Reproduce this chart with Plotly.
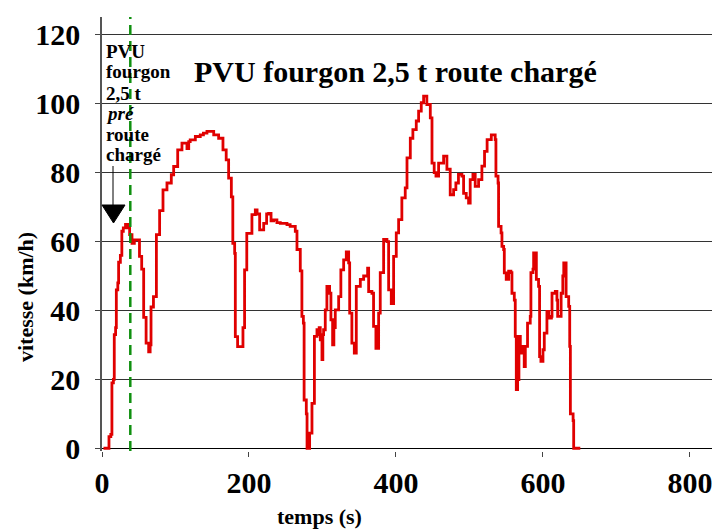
import plotly.graph_objects as go

# ---- data ----
temps = [2, 9, 9.5, 12, 13.5, 15.5, 16.7, 18.5, 19.5, 21.5, 22.6, 25, 27, 29, 32, 35, 37.6, 40.8, 44, 47.6,
         51, 54, 56.7, 60, 63.5, 65.5, 66.7, 70, 74, 78.4, 83, 88.4, 94.3, 97.5, 103, 108.8, 112, 115.6, 118, 120,
         127, 133.7, 138, 142.8, 147, 152, 158.7, 164.6, 169, 172.3, 176, 178, 180.5, 181.4, 184.5, 188, 191.8, 194, 197, 204,
         208.6, 211, 214.5, 220, 224, 226.7, 230, 233.5, 238, 242.6, 251.7, 256, 260.7, 263, 265.3, 269.8, 272, 274, 275, 278,
         279, 281, 282.5, 285.7, 289, 292.5, 294, 295.5, 297, 299.3, 300.5, 301.5, 303.8, 306, 309.7, 311.5, 313.8, 315.5, 317.4, 322,
         325, 328.8, 332.4, 335.6, 337, 340, 343.3, 346, 351.5, 356, 361.4, 362.8, 367.3, 369.5, 372.7, 376.4, 378.6, 383.2, 387.7, 390,
         393.6, 396.8, 400.4, 403.6, 408, 412.6, 415, 419.5, 423, 427.6, 430.8, 434.4, 437.6, 442, 446.7, 449, 452, 454.4, 458, 464.8,
         469.3, 473.8, 478.4, 481.5, 485, 489.7, 492, 495.6, 498.8, 501, 504.7, 507.8, 512.4, 516.9, 520.5, 524, 529.7, 535, 536, 538.9,
         539.6, 543, 544.2, 546.5, 547.4, 550, 553.3, 556.4, 557.8, 561, 562.3, 563.7, 565.5, 567.3, 569.2, 571.5, 574.5, 576, 579, 582.7,
         583.6, 586.4, 587.3, 590, 591, 594, 595.4, 597.2, 600, 601.8, 604.5, 605.4, 607.7, 611.5, 612.3, 616.8, 619, 620, 623.8, 624.7,
         627, 628.3, 630.6, 631.5, 635, 636.4, 637.3, 641, 641.8, 650.8]
vitesse = [0, 0, 3.4, 4, 19, 20, 33, 35, 46, 48, 54, 56, 63, 64, 65, 64, 62, 59.5, 60.5, 60.5,
           55.7, 52, 38, 30.5, 28, 30, 41, 44, 62, 69, 75, 77, 79.4, 81.8, 86.6, 88.6, 88.6, 87, 89, 89.5,
           90.5, 91, 91.5, 92, 92, 91, 90, 86.6, 83.7, 78.4, 73, 59.5, 56.6, 32.4, 29.5, 29.5, 35, 51.8, 62.4, 67.8,
           69.2, 68, 63.4, 65.3, 68, 68.2, 66, 66.3, 65.5, 65.3, 64.9, 64.4, 64.4, 63, 57.7, 51.5, 38.3, 36.3, 14, 10,
           0, 0, 4.4, 13, 32.5, 34.4, 33, 35, 31.5, 25.7, 33, 34.4, 40.2, 47, 45, 37.3, 30, 35, 40.2, 44,
           51.8, 54.7, 57, 53.8, 39.2, 30.5, 27.6, 47, 49, 50, 52.3, 45.5, 45, 35.4, 29, 39.2, 51, 60.6, 60, 46,
           42, 55.7, 62.5, 66.4, 72.7, 75.6, 84.3, 90, 92.5, 95, 97.9, 100.3, 102.2, 99.8, 95.9, 82.8, 80, 79, 82.8, 84.8,
           81, 73.6, 75.1, 77, 79.5, 79, 74, 72.7, 71.2, 78, 79.5, 76, 78, 81.9, 86.2, 89.6, 91, 89.6, 79, 77,
           64.4, 62.5, 58.6, 57.7, 50.9, 49, 51.4, 51, 45, 43, 32.5, 17, 19.9, 32.5, 27.6, 29.6, 23.7, 29.6, 36.3, 38.3,
           51, 52, 56.7, 56.7, 49, 47, 26.6, 25.2, 28.6, 33.4, 33.4, 39.7, 37.8, 38.3, 45, 45.5, 43, 38.3, 38.3, 45,
           50, 53.8, 53.8, 44, 41.2, 29.6, 10, 8, 0, 0]
x_ticks = [0, 200, 400, 600, 800]
y_ticks = [0, 20, 40, 60, 80, 100, 120]
t_marqueur = 38.5  # green dashed line position (s)

titre = "PVU fourgon 2,5 t route chargé"
note_lignes = [("PVU", False), ("fourgon", False), ("2,5 t", False), ("pré", True), ("route", False), ("chargé", False)]

FONT = '"Liberation Serif", "Times New Roman", Times, serif'
W, H = 712, 529
L, R, T, B = 102, 0, 17, 78

fig = go.Figure()
fig.add_trace(go.Scatter(x=temps, y=vitesse, mode="lines",
                         line=dict(color="#e00000", width=2.8, shape="hv"), showlegend=False, hoverinfo="skip"))

fig.update_layout(
    width=W, height=H,
    margin=dict(l=L, r=R, t=T, b=B, autoexpand=False),
    plot_bgcolor="white", paper_bgcolor="white",
    font=dict(family=FONT, color="black"),
    showlegend=False,
)
fig.update_xaxes(range=[0, 830], tickvals=x_ticks, ticktext=["<b>%d</b>" % v for v in x_ticks],
                 showgrid=False, zeroline=False, showline=False, automargin=False,
                 ticks="outside", ticklen=5, tickcolor="#444", tickwidth=1.2,
                 ticklabeloverflow="allow",
                 tickfont=dict(family=FONT, size=30), ticklabelstandoff=0)
fig.update_yaxes(range=[-0.8, 125.2], tickvals=y_ticks, ticktext=["<b>%d</b>" % v for v in y_ticks],
                 showgrid=True, gridcolor="#333", gridwidth=1, automargin=False,
                 zeroline=True, zerolinecolor="black", zerolinewidth=1.2,
                 showline=True, linecolor="#555", linewidth=1.5,
                 ticks="outside", ticklen=5, tickcolor="#444",
                 tickfont=dict(family=FONT, size=30), ticklabelstandoff=9)

# green dashed marker line
fig.add_shape(type="line", x0=t_marqueur, x1=t_marqueur, y0=0, y1=1, xref="x", yref="paper",
              line=dict(color="#109010", width=2.5, dash="10px,6px"))

# helper to convert pixels to paper coords
def px(xp):
    return (xp - L) / (W - L - R)
def py(yp):
    return (H - B - yp) / (H - T - B)

# axis titles
fig.add_annotation(text="<b>vitesse (km/h)</b>", x=px(25), y=py(297), xref="paper", yref="paper",
                   textangle=-90, showarrow=False, font=dict(family=FONT, size=22), xanchor="center", yanchor="middle")
fig.add_annotation(text="<b>temps (s)</b>", x=px(319), y=py(516), xref="paper", yref="paper",
                   showarrow=False, font=dict(family=FONT, size=22), xanchor="center", yanchor="middle")

# chart title
fig.add_annotation(text="<b>" + titre + "</b>", x=px(395), y=py(72), xref="paper", yref="paper",
                   showarrow=False, font=dict(family=FONT, size=30), xanchor="center", yanchor="middle")

# left note, one annotation per line
y_lignes = [51, 72, 93, 114, 134, 154]
for (txt, ital), yl in zip(note_lignes, y_lignes):
    s = "<b><i>" + txt + "</i></b>" if ital else "<b>" + txt + "</b>"
    fig.add_annotation(text=s, x=px(104), y=py(yl), xref="paper", yref="paper",
                       showarrow=False, font=dict(family=FONT, size=19), xanchor="left", yanchor="middle")

# arrow: thin line + filled triangle
fig.add_shape(type="line", x0=px(113), x1=px(113), y0=py(166), y1=py(206), xref="paper", yref="paper",
              line=dict(color="black", width=1))
fig.add_shape(type="path", xref="paper", yref="paper",
              path=f"M {px(102)} {py(205)} L {px(125)} {py(205)} L {px(113.5)} {py(223)} Z",
              fillcolor="black", line=dict(color="black", width=1))

fig.write_html("out.html", config={"displayModeBar": False},
               post_script="document.body.style.margin='0';document.body.style.padding='0';")
